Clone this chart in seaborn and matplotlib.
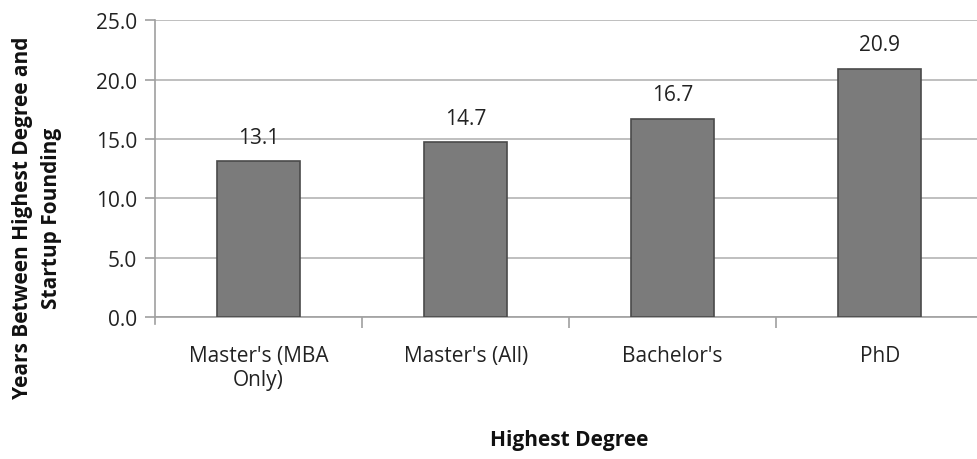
import matplotlib
matplotlib.use('Agg')
import matplotlib.pyplot as plt
import seaborn as sns
import pandas as pd
import numpy as np

# data
degrees = ["Master's (MBA\nOnly)", "Master's (All)", "Bachelor's", "PhD"]
years = [13.1, 14.7, 16.7, 20.9]
y_ticks = [0.0, 5.0, 10.0, 15.0, 20.0, 25.0]

df = pd.DataFrame({'degree': degrees, 'years': years})

sns.set_style('white')
plt.rcParams['font.family'] = ['Open Sans', 'DejaVu Sans']

fig = plt.figure(figsize=(9.78, 4.6), dpi=100)
ax = fig.add_axes([0.1585, 0.309, 0.847, 0.645])

sns.barplot(x='degree', y='years', data=df, color='#7b7b7b', width=0.4,
            edgecolor='#4a4a4a', linewidth=1.2, saturation=1, ax=ax, zorder=3)

# data labels
for c in ax.containers:
    ax.bar_label(c, fmt='%.1f', padding=10, fontsize=15, color='#222222')

ax.set_ylim(0, 25)
ax.set_xlim(-0.5, 3.5)
ax.set_yticks(y_ticks)
ax.set_yticklabels(['%.1f' % t for t in y_ticks], fontsize=15, color='#222222')
ax.yaxis.grid(True, color='#b4b4b4', linewidth=1.2, zorder=0)
ax.set_axisbelow(True)

# category separators as minor ticks
ax.set_xticks([0.5, 1.5, 2.5], minor=True)
ax.tick_params(axis='x', which='major', length=0, pad=20, labelsize=15, labelcolor='#222222')
ax.tick_params(axis='x', which='minor', length=8, width=1.2, color='#a0a0a0', direction='out', bottom=True)
ax.tick_params(axis='y', length=7, width=1.2, color='#a0a0a0', direction='out', left=True, pad=6)

for s in ['top', 'right']:
    ax.spines[s].set_visible(False)
for s in ['left', 'bottom']:
    ax.spines[s].set_color('#a0a0a0')
    ax.spines[s].set_linewidth(1.2)
ax.spines['left'].set_bounds(-0.6, 25)

ax.set_xlabel('Highest Degree', fontsize=15, fontweight='bold', labelpad=28, color='#111111')
ax.set_ylabel('')
fig.text(37 / 978, 1 - 218 / 460, 'Years Between Highest Degree and\nStartup Founding',
         rotation=90, ha='center', va='center', fontsize=15, fontweight='bold',
         color='#111111', linespacing=1.45, multialignment='center')

plt.savefig('out.png', dpi=100)
